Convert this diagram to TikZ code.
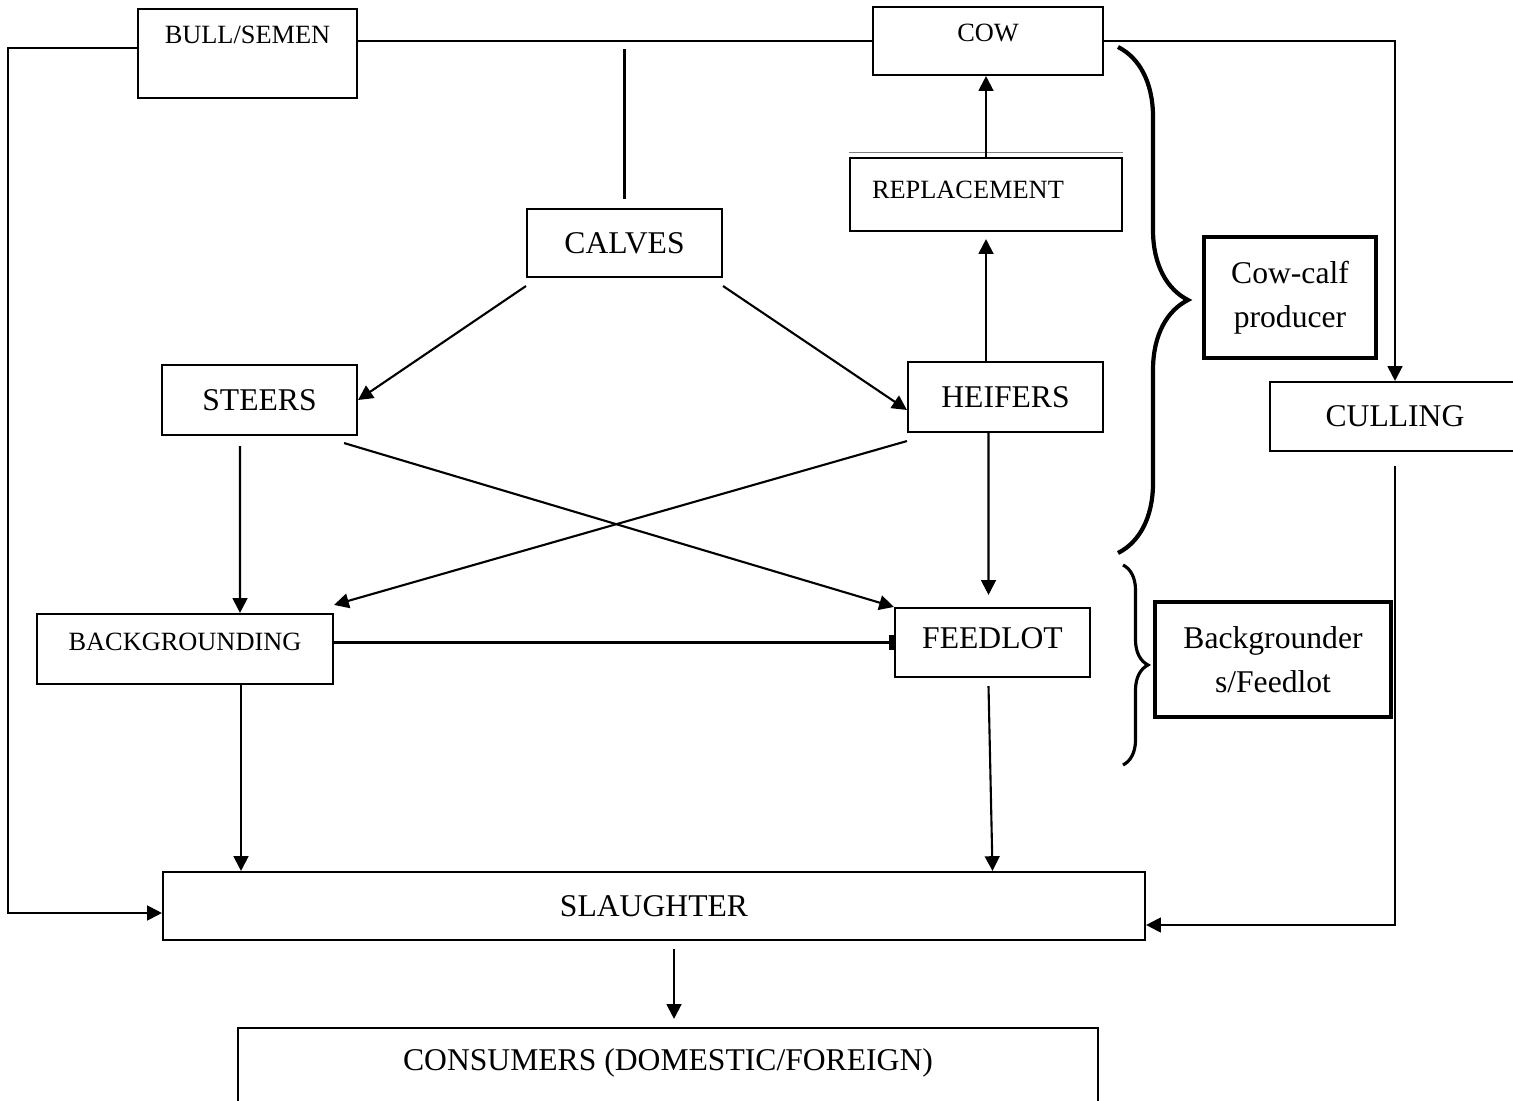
\documentclass[tikz,border=0pt]{standalone}
\usepackage{fontspec}
\setmainfont{Liberation Serif}
\usetikzlibrary{arrows.meta,positioning,decorations.pathreplacing}

\begin{document}
\begin{tikzpicture}[line width=0.6pt,>={Triangle[length=4.2pt,width=4.2pt]},
   box/.style={draw,rectangle,inner sep=0pt,font=\fontsize{9}{11}\selectfont},
   small/.style={font=\fontsize{7.5}{9}\selectfont},
   heavy/.style={box,line width=1.3pt,align=center,font=\fontsize{9}{12.5}\selectfont},
   bracket/.style={decorate,decoration={brace,amplitude=#1}}]
   \useasboundingbox (0,0) rectangle (15.13,-11.01);

   \node[box,small,minimum width=2.19cm,minimum height=0.89cm,text depth=0.37cm] (bull) at (2.475,-0.535) {BULL/SEMEN};
   \node[box,small,minimum width=2.30cm,minimum height=0.68cm,text depth=0.16cm] (cow) at (9.88,-0.41) {COW};
   \node[box,small,minimum height=0.73cm,text depth=0.09cm,inner xsep=0.22cm,text width=2.28cm,align=left] (repl) at (9.86,-1.945) {REPLACEMENT};
   \node[box,minimum width=1.95cm,minimum height=0.68cm] (calves) at (6.245,-2.43) {CALVES};
   \node[box,minimum width=1.95cm,minimum height=0.70cm] (steers) at (2.595,-4.00) {STEERS};
   \node[box,minimum width=1.95cm,minimum height=0.70cm] (heifers) at (10.055,-3.97) {HEIFERS};
   \node[box,minimum width=2.50cm,minimum height=0.69cm] (culling) at (13.95,-4.165) {CULLING};
   \node[box,small,minimum width=2.96cm,minimum height=0.70cm,text depth=0.14cm] (backg) at (1.85,-6.49) {BACKGROUNDING};
   \node[box,minimum width=1.95cm,minimum height=0.69cm,text depth=0.09cm] (feedlot) at (9.925,-6.425) {FEEDLOT};
   \node[box,minimum width=9.82cm,minimum height=0.68cm] (slaughter) at (6.54,-9.06) {SLAUGHTER};
   \node[box,minimum width=8.60cm,minimum height=1.20cm,text depth=0.56cm] (consumers) at (6.68,-10.88) {CONSUMERS (DOMESTIC/FOREIGN)};
   \node[heavy,minimum width=1.72cm,minimum height=1.21cm] (cowcalf) at (12.90,-2.975) {Cow-calf\\producer};
   \node[heavy,minimum width=2.36cm,minimum height=1.15cm] (bgfeed) at (12.73,-6.595) {Backgrounder\\s/Feedlot};
   \coordinate (lside) at (0.08,-0.48);

   \draw[gray,line width=0.4pt] ([yshift=1.3pt]repl.north west) -- ([yshift=1.3pt]repl.north east);

   \draw (bull.east |- cow.west) -- (cow.west);
   \draw ([yshift=0.09cm]calves.north) -- ([yshift=-0.08cm]calves.north |- cow.west);
   \draw[->] (bull.west |- lside) -- (lside) |- ([yshift=-0.07cm]slaughter.west);
   \draw[->] (cow.east) -| (culling.north);
   \draw[->] ([yshift=-0.14cm]culling.south) |- ([yshift=-0.19cm]slaughter.east);
   \draw[->] (repl.north) -- (repl.north |- cow.south);
   \draw[->] (heifers.north -| repl) -- ([yshift=-0.07cm]repl.south);
   \draw[->] ([yshift=-0.08cm]calves.south west) -- (steers.east);
   \draw[->] ([yshift=-0.08cm]calves.south east) -- ([yshift=-0.13cm]heifers.west);
   \draw[->] ([xshift=-0.195cm,yshift=-0.1cm]steers.south) -- ([xshift=0.55cm]backg.north);
   \draw[->] ([xshift=-0.14cm,yshift=-0.07cm]steers.south east) -- (feedlot.north west);
   \draw[->] ([yshift=-0.08cm]heifers.south west) -- ([yshift=0.08cm]backg.north east);
   \draw[->] ([xshift=-0.17cm]heifers.south) -- ([xshift=-0.04cm,yshift=0.12cm]feedlot.north);
   \draw[-{Bar[width=4pt,line width=1.3pt]}] (backg.east |- feedlot.west) -- (feedlot.west);
   \draw[->] ([xshift=0.56cm]backg.south) -- ([xshift=0.56cm]backg.south |- slaughter.north);
   \draw[->] ([xshift=-0.04cm,yshift=-0.08cm]feedlot.south) -- (feedlot.south |- slaughter.north);
   \draw[->] ([xshift=0.2cm,yshift=-0.08cm]slaughter.south) -- ([xshift=0.2cm,yshift=0.08cm]slaughter.south |- consumers.north);

   \draw[line width=1.2pt,bracket=0.7cm] (11.18,-0.47) -- (11.18,-5.53);
   \draw[line width=0.9pt,bracket=0.25cm] (11.23,-5.65) -- (11.23,-7.65);
\end{tikzpicture}
\end{document}
